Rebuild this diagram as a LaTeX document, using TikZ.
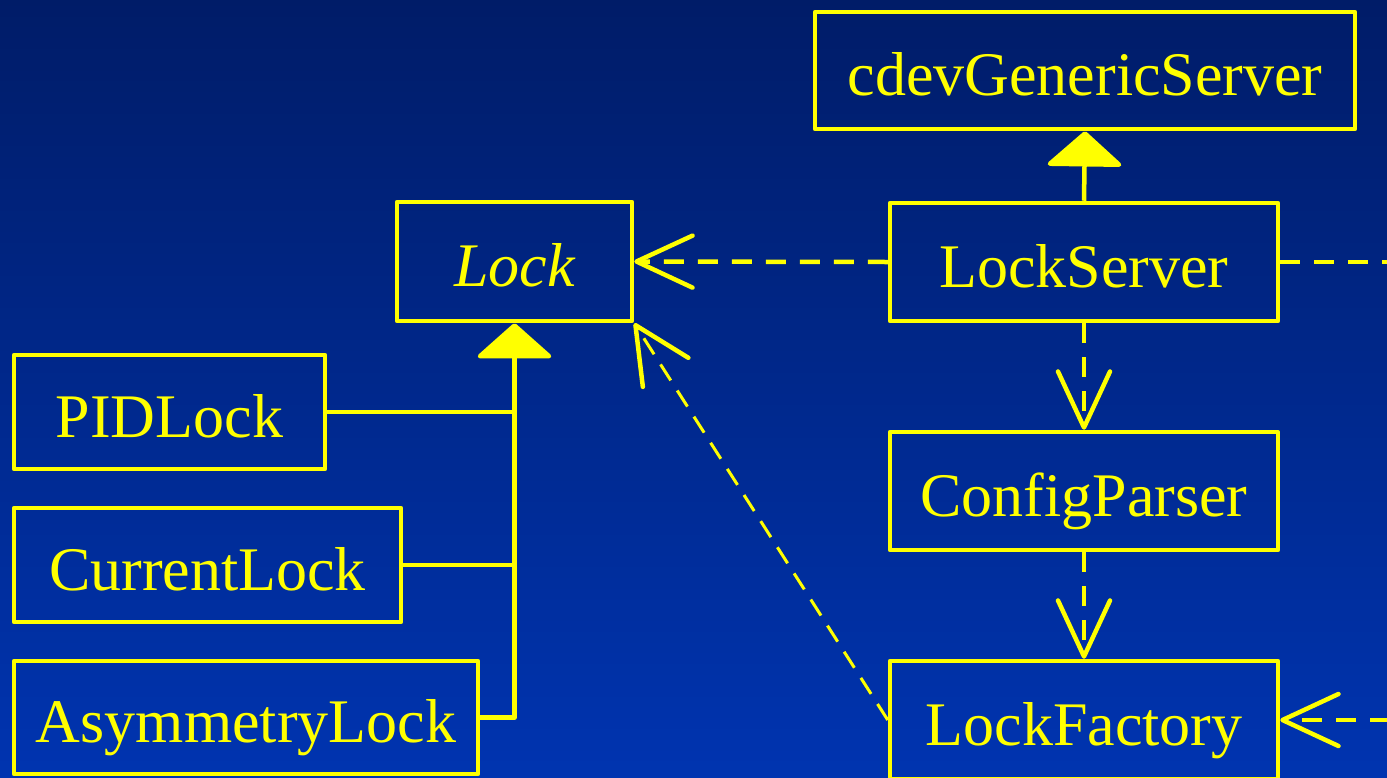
\documentclass[tikz,border=0pt]{standalone}
\usepackage{fontspec}
\setmainfont{Liberation Serif}
\usetikzlibrary{arrows.meta}
\definecolor{ylw}{RGB}{255,255,0}
\definecolor{bgtop}{RGB}{0,28,104}
\definecolor{bgbot}{RGB}{0,52,176}
\tikzset{
  cls/.style={draw=ylw, line width=4.5pt, line join=round, text=ylw,
    font=\fontsize{62pt}{70pt}\selectfont, text height=50pt, text depth=0pt,
    inner sep=0pt},
  dep/.style={draw=ylw, line width=4.5pt, dash pattern=on 20pt off 14pt,
    -{Straight Barb[length=56pt,width=52pt,round]}},
  depthin/.style={draw=ylw, line width=3pt, dash pattern=on 19pt off 12pt,
    -{Straight Barb[length=56pt,width=54pt,round,line width=4.5pt]}},
  depline/.style={draw=ylw, line width=4.5pt, dash pattern=on 20pt off 14pt},
  inh/.style={draw=ylw, line width=4.5pt, line join=round,
    -{Triangle[length=36pt,width=80pt,round]}},
  solid line/.style={draw=ylw, line width=4.5pt, line cap=round},
}
\begin{document}
\begin{tikzpicture}[x=1pt,y=-1pt]
\shade[top color=bgtop, bottom color=bgbot] (0,0) rectangle (1387,777);
\useasboundingbox (0,0) rectangle (1387,777);

\node[cls, minimum width=540pt, minimum height=117pt] (cdev) at (1085,70.5) {cdevGenericServer};
\node[cls, minimum width=388pt, minimum height=118pt] (server) at (1084,262) {LockServer};
\node[cls, minimum width=235pt, minimum height=119pt, font=\fontsize{62pt}{70pt}\selectfont\itshape] (lock) at (514.5,261.5) {Lock};
\node[cls, minimum width=311pt, minimum height=114pt] (pid) at (169.5,412) {PIDLock};
\node[cls, minimum width=387pt, minimum height=114pt] (cur) at (207.5,565) {CurrentLock};
\node[cls, minimum width=464pt, minimum height=113pt] (asym) at (246,717.5) {AsymmetryLock};
\node[cls, minimum width=388pt, minimum height=118pt] (parser) at (1084,491) {ConfigParser};
\node[cls, minimum width=388pt, minimum height=118pt] (factory) at (1084,720) {LockFactory};

\coordinate (rightA) at (1390,262);
\coordinate (rightB) at (1390,720);

% inheritance
\draw[inh] (server.north) -- (cdev.south);
\draw[inh] (asym.east) -| (lock.south);
\draw[solid line] (pid.east) -- (pid.east -| lock.south);
\draw[solid line] (cur.east) -- (cur.east -| lock.south);

% dependencies
\draw[dep] (server.west) -- (lock.east);
\draw[depline] (server.east) -- (rightA);
\draw[dep] (server.south) -- (parser.north);
\draw[dep] (parser.south) -- (factory.north);
\draw[depthin] (factory.west) -- (lock.south east);
\draw[dep] (rightB) -- (factory.east);
\end{tikzpicture}
\end{document}
